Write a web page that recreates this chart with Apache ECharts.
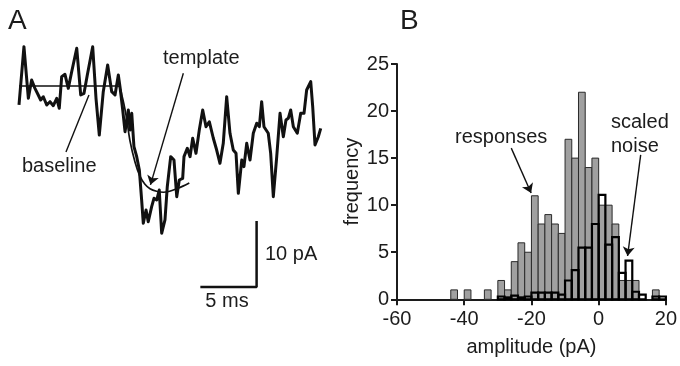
<!DOCTYPE html>
<html>
<head>
<meta charset="utf-8">
<script src="https://cdn.jsdelivr.net/npm/echarts@6/dist/echarts.min.js"></script>
<style>
  html, body { margin: 0; padding: 0; background: #fff; }
  #chart { width: 680px; height: 366px; }
</style>
</head>
<body>
<div id="chart"></div>
<script>
// panel A: recorded current trace, [time ms, current pA]
const tracePoints = [
  [0, -2.94], [0.45, 6.08], [0.85, -1.90], [1.15, 0.93], [1.45, -0.36], [1.75, -1.39],
  [1.97, -2.17], [2.21, -1.66], [2.52, -2.94], [2.82, -2.43], [3.12, -3.05], [3.43, -1.90],
  [3.66, -3.45], [3.88, 1.44], [4.18, 1.81], [4.48, -0.36], [4.79, 2.21], [5.25, 5.84],
  [5.61, -1.39], [5.91, -1.13], [6.21, 1.70], [6.70, 6.08], [7.00, -1.90], [7.30, -7.59],
  [7.66, -0.88], [8.06, 3.25], [8.43, -0.88], [8.73, -1.39], [9.03, 1.70], [9.18, -0.11],
  [9.43, -3.72], [9.64, -7.07], [9.94, -3.72], [10.09, -6.81], [10.25, -4.23], [10.45, -9.40],
  [10.70, -10.94], [10.94, -13.00], [11.15, -17.65], [11.30, -21.25], [11.55, -19.20], [11.75, -21.01],
  [12.06, -18.68], [12.27, -17.38], [12.52, -17.65], [12.75, -16.10], [12.97, -22.80], [13.27, -20.74],
  [13.48, -15.59], [13.79, -10.94], [14.09, -11.46], [14.34, -17.14], [14.57, -14.55], [14.88, -14.29],
  [15.00, -10.94], [15.30, -9.64], [15.55, -10.94], [15.79, -8.10], [16.09, -10.42], [16.39, -6.81],
  [16.70, -3.72], [17.00, -6.30], [17.30, -5.53], [17.66, -8.05], [17.97, -9.91], [18.27, -11.97],
  [18.57, -8.87], [18.88, -1.66], [19.18, -7.32], [19.48, -9.91], [19.73, -10.42], [19.94, -16.61],
  [20.25, -11.46], [20.45, -12.49], [20.70, -8.87], [21.00, -11.46], [21.30, -7.32], [21.61, -5.77],
  [21.85, -6.30], [22.06, -2.43], [22.27, -6.30], [22.66, -7.32], [22.88, -10.42], [23.12, -17.14],
  [23.43, -10.94], [23.73, -4.23], [24.03, -7.85], [24.27, -5.26], [24.48, -5.00], [24.70, -3.72],
  [24.94, -6.30], [25.30, -7.32], [25.61, -4.23], [25.91, -4.23], [26.15, -0.62], [26.52, 0.67],
  [26.70, -3.20], [26.91, -9.13], [27.21, -7.85], [27.43, -6.55]
];

// fitted template (flat baseline, then the event)
const templatePoints = [
  [0, 0], [9.0, 0], [9.36, -1.5], [9.73, -4.5], [10.09, -8.5], [10.55, -11.8], [11.0, -14.0],
  [11.45, -15.2], [11.91, -15.9], [12.5, -16.3], [13.12, -16.45], [13.7, -16.3], [14.34, -15.9],
  [14.9, -15.5], [15.48, -15.0]
];

// scale bar: 5 ms x 10 pA
const scaleBar = [[16.6, -31.1], [21.6, -31.1], [21.6, -21.1]];

// panel B: amplitude histogram, bins of 2 pA
const binWidth = 2;
const binStarts = [-44, -42, -40, -38, -36, -34, -32, -30, -28, -26, -24, -22, -20, -18, -16, -14,
  -12, -10, -8, -6, -4, -2, 0, 2, 4, 6, 8, 10, 12, 14, 16, 18];
const responses = [1, 0, 1, 0, 0, 1, 0, 2, 1, 4, 6, 5, 11, 8, 9, 8,
  7, 17, 15, 22, 14, 15, 10, 10, 8, 2, 2, 2, 0, 0, 1, 0];
const scaledNoise = [0, 0, 0, 0, 0, 0, 0, 0.3, 0.2, 0.4, 0.2, 0.3, 0.7, 0.7, 0.7, 0.7,
  0.5, 2.0, 3.1, 5.5, 5.5, 8.0, 11.1, 5.8, 6.6, 2.8, 4.1, 0.8, 0.5, 0, 0.3, 0.3];
const xTicks = [-60, -40, -20, 0, 20];
const yTicks = [0, 5, 10, 15, 20, 25];

const FONT = '"Liberation Sans", Arial, sans-serif';
const INK = '#1c1c1c';

function histItem(fill, stroke, lw) {
  return function (params, api) {
    const x0 = api.value(0);
    const v = api.value(1);
    if (!v) return null;
    const p0 = api.coord([x0, 0]);
    const p1 = api.coord([x0 + binWidth, v]);
    return {
      type: 'rect',
      shape: { x: p0[0], y: p1[1], width: p1[0] - p0[0], height: p0[1] - p1[1] },
      style: { fill: fill, stroke: stroke, lineWidth: lw }
    };
  };
}

function label(text, x, y, size, align) {
  return {
    type: 'text', x: x, y: y, silent: true,
    style: { text: text, fontSize: size, fontFamily: FONT, fill: INK,
      align: align || 'left', verticalAlign: 'middle' }
  };
}

const chart = echarts.init(document.getElementById('chart'));

const option = {
  animation: false,
  backgroundColor: '#fff',
  grid: [
    { left: 19, top: 34.32, width: 302.5, height: 258.4 },
    { left: 397, top: 64, width: 270, height: 235.3 }
  ],
  xAxis: [
    { gridIndex: 0, type: 'value', min: 0, max: 27.5, show: false },
    {
      gridIndex: 1, type: 'value', min: xTicks[0], max: xTicks[xTicks.length - 1], interval: 20,
      name: 'amplitude (pA)', nameLocation: 'middle', nameGap: 38,
      nameTextStyle: { fontSize: 20, fontFamily: FONT, color: INK },
      axisLine: { onZero: false, lineStyle: { color: INK, width: 2 } },
      axisTick: { length: 6, lineStyle: { color: INK, width: 2 } },
      axisLabel: { fontSize: 20, fontFamily: FONT, color: INK, margin: 10 },
      splitLine: { show: false }
    }
  ],
  yAxis: [
    { gridIndex: 0, type: 'value', min: -32, max: 8, show: false },
    {
      gridIndex: 1, type: 'value', min: yTicks[0], max: yTicks[yTicks.length - 1], interval: 5,
      name: 'frequency', nameLocation: 'middle', nameGap: 34,
      nameTextStyle: { fontSize: 20, fontFamily: FONT, color: INK },
      axisLine: { show: true, onZero: false, lineStyle: { color: INK, width: 2 } },
      axisTick: { show: true, length: 6, lineStyle: { color: INK, width: 2 } },
      axisLabel: { fontSize: 20, fontFamily: FONT, color: INK, margin: 8 },
      splitLine: { show: false }
    }
  ],
  series: [
    {
      type: 'line', xAxisIndex: 0, yAxisIndex: 0, data: tracePoints,
      symbol: 'none', clip: false, z: 3,
      lineStyle: { color: '#111', width: 3, join: 'round' }
    },
    {
      type: 'line', xAxisIndex: 0, yAxisIndex: 0, data: templatePoints,
      symbol: 'none', smooth: 0.3, clip: false, z: 4,
      lineStyle: { color: '#111', width: 1.7 },
      markLine: {
        silent: true, animation: false,
        label: { show: false },
        lineStyle: { color: '#111', width: 1.4, type: 'solid' },
        symbolSize: 9,
        data: [
          [{ coord: [14.94, 1.97], symbol: 'none' }, { coord: [11.95, -15.3], symbol: 'arrow' }],
          [{ coord: [4.27, -10.2], symbol: 'none' }, { coord: [6.36, -1.39], symbol: 'none' }]
        ]
      }
    },
    {
      type: 'line', xAxisIndex: 0, yAxisIndex: 0, data: scaleBar,
      symbol: 'none', clip: false,
      lineStyle: { color: '#111', width: 2.5, cap: 'square' }
    },
    {
      type: 'custom', xAxisIndex: 1, yAxisIndex: 1, z: 2,
      data: binStarts.map((s, i) => [s, responses[i]]),
      encode: { x: 0, y: 1 },
      renderItem: histItem('#a0a0a0', '#2a2a2a', 1),
      markLine: {
        silent: true, animation: false,
        label: { show: false },
        lineStyle: { color: '#111', width: 1.4, type: 'solid' },
        symbolSize: 9,
        data: [
          [{ coord: [-26.0, 16.06], symbol: 'none' }, { coord: [-20.1, 11.3], symbol: 'arrow' }]
        ]
      }
    },
    {
      type: 'custom', xAxisIndex: 1, yAxisIndex: 1, z: 3,
      data: binStarts.map((s, i) => [s, scaledNoise[i]]),
      encode: { x: 0, y: 1 },
      renderItem: histItem('none', '#000', 2.2),
      markLine: {
        silent: true, animation: false,
        label: { show: false },
        lineStyle: { color: '#111', width: 1.4, type: 'solid' },
        symbolSize: 9,
        data: [
          [{ coord: [12.5, 15.35], symbol: 'none' }, { coord: [8.6, 4.6], symbol: 'arrow' }]
        ]
      }
    }
  ],
  graphic: [
    label('A', 8, 21, 28),
    label('B', 400, 21, 28),
    label('template', 163, 58, 20),
    label('baseline', 22, 166, 20),
    label('10 pA', 265, 254, 20),
    label('5 ms', 227, 301, 20, 'center'),
    label('responses', 455, 137, 20),
    label('scaled', 611, 122, 20),
    label('noise', 611, 146, 20)
  ]
};

chart.setOption(option);
</script>
</body>
</html>
